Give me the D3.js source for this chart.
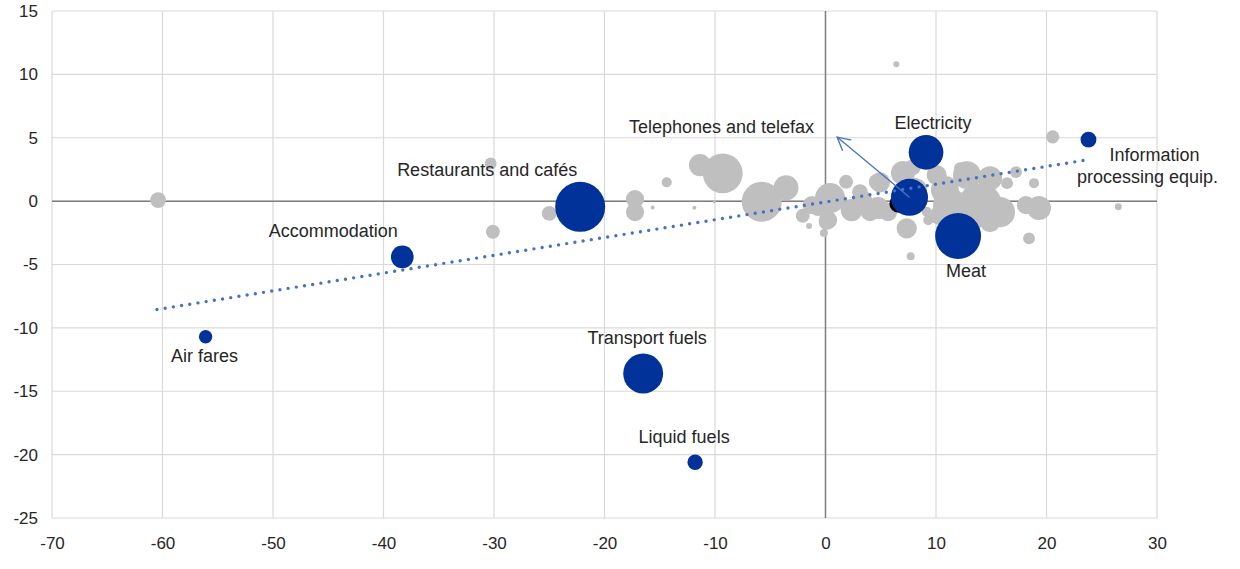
<!DOCTYPE html>
<html>
<head>
<meta charset="utf-8">
<script src="https://cdn.jsdelivr.net/npm/d3@7/dist/d3.min.js"></script>
<style>
  html, body { margin: 0; padding: 0; background: #fff; }
  svg text { font-family: "Liberation Sans", Arial, sans-serif; }
</style>
</head>
<body>
<svg id="chart" width="1240" height="569"></svg>
<script>
// ---------- DATA ----------
const xTicks = [-70, -60, -50, -40, -30, -20, -10, 0, 10, 20, 30];
const yTicks = [15, 10, 5, 0, -5, -10, -15, -20, -25];

// Highlighted items
const highlightNames = ["Air fares", "Accommodation", "Restaurants and cafés", "Transport fuels",
  "Liquid fuels", "Telephones and telefax", "Electricity", "Meat", "Information processing equip."];
const highlightX = [-56.1, -38.3, -22.2, -16.5, -11.8, 7.6, 9.1, 12.0, 23.8];
const highlightY = [-10.7, -4.4, -0.45, -13.6, -20.6, 0.3, 3.85, -2.75, 4.85];
const highlightW = [11.5, 33, 160, 102, 15, 88, 77, 135, 16];

// Other items (grey)
const otherX = [-60.4, -30.1, -30.3, -25.0, -17.24, -17.24, -15.64, -11.87, -14.37, -10.06,
  -11.36, -9.3, -5.77, -3.57, -2.06, -1.49, -0.14, 0.41, 0.1, 1.86,
  2.37, 3.57, 4.75, 4.93, 7.01, 10.06, 7.35, 7.71, 9.3, 9.16,
  6.41, 20.56, 26.5, 18.42, 12.8, 14.89, 13.98, 15.79, 10.81, 16.43,
  17.24, 18.14, 19.32, 18.87, 10.36, 4.63, 12.17, 8.1, 3.12, -0.68, 0.23,
  11.27, 14.89, 7.92, 3.3, -1.24, 4.03, 5.66];
const otherY = [0.08, -2.42, 2.97, -0.97, 0.16, -0.87, -0.5, -0.53, 1.48, -0.05,
  2.84, 2.19, -0.05, 1.05, -1.16, -1.97, -2.52, 0.24, -1.63, 1.52,
  -0.71, -0.32, -0.55, 1.48, 2.21, 2.05, -2.15, -4.34, -1.5, -0.84,
  10.79, 5.07, -0.45, -2.94, 2.05, 1.81, -0.32, -0.87, 0.87, 1.42,
  2.29, -0.32, -0.55, 1.42, -1.1, 1.52, 2.6, 0.87, 0.71, -0.55, -1.5,
  -0.32, -1.66, 2.68, 0.08, -0.32, -0.87, -0.87];
const otherW = [16, 12.5, 9, 14, 21, 21, 1, 1, 6.4, 0.6,
  31, 102, 102, 40, 12.5, 2.3, 4, 58, 16, 12.5,
  31, 26, 31, 26, 37, 26, 26, 4, 6.4, 6.4,
  2.3, 11, 3.1, 9, 50, 37, 124, 58, 50, 9,
  9, 21, 37, 6.4, 26, 16, 9, 37, 16, 16, 21,
  74, 26, 16, 26, 21, 21, 21];

// Partially hidden dark item
const darkX = [6.6];
const darkY = [-0.2];
const darkW = [21];

// Linear trend end points
const trendX = [-60.5, 24.0];
const trendY = [-8.55, 3.3];

// Arrow for "Telephones and telefax": from item towards its label
const arrowX = [7.6, 1.05];
const arrowY = [0.3, 5.05];

// ---------- DRAWING ----------
const svg = d3.select("#chart");
const W = 1240, H = 569;
const margin = { left: 52, right: W - 1157, top: 11, bottom: H - 518 };

const x = d3.scaleLinear().domain([-70, 30]).range([margin.left, W - margin.right]);
const y = d3.scaleLinear().domain([-25, 15]).range([H - margin.bottom, margin.top]);
const r = d3.scaleSqrt().domain([0, 160]).range([0, 25]);

// gridlines
const grid = svg.append("g");
grid.selectAll("line.v").data(xTicks).join("line")
  .attr("x1", d => x(d)).attr("x2", d => x(d))
  .attr("y1", y(15)).attr("y2", y(-25))
  .attr("stroke", "#d9d9d9").attr("stroke-width", 1.2);
grid.selectAll("line.h").data(yTicks).join("line")
  .attr("x1", x(-70)).attr("x2", x(30))
  .attr("y1", d => y(d)).attr("y2", d => y(d))
  .attr("stroke", "#d9d9d9").attr("stroke-width", 1.2);

// zero axes
svg.append("line").attr("x1", x(-70)).attr("x2", x(30)).attr("y1", y(0)).attr("y2", y(0))
  .attr("stroke", "#7f7f7f").attr("stroke-width", 1.5);
svg.append("line").attr("x1", x(0)).attr("x2", x(0)).attr("y1", y(15)).attr("y2", y(-25))
  .attr("stroke", "#7f7f7f").attr("stroke-width", 1.5);

// axis labels
const fmt = d => String(d);
const xAxis = d3.axisBottom(x).tickValues(xTicks).tickFormat(fmt).tickSize(0).tickPadding(19);
const gx = svg.append("g").attr("transform", `translate(0,${y(-25)})`).call(xAxis);
gx.select(".domain").remove();
gx.selectAll("text").attr("font-size", 17).attr("fill", "#262626")
  .attr("font-family", "Liberation Sans, Arial, sans-serif");

const yAxis = d3.axisLeft(y).tickValues(yTicks).tickFormat(fmt).tickSize(0).tickPadding(14);
const gy = svg.append("g").attr("transform", `translate(${x(-70)},0)`).call(yAxis);
gy.select(".domain").remove();
gy.selectAll("text").attr("font-size", 17).attr("fill", "#262626")
  .attr("font-family", "Liberation Sans, Arial, sans-serif");

// grey bubbles
const others = otherX.map((d, i) => ({ x: d, y: otherY[i], w: otherW[i] }));
svg.append("g").selectAll("circle").data(others).join("circle")
  .attr("cx", d => x(d.x)).attr("cy", d => y(d.y)).attr("r", d => r(d.w))
  .attr("fill", "#bfbfbf");

// dark bubble
const darks = darkX.map((d, i) => ({ x: d, y: darkY[i], w: darkW[i] }));
svg.append("g").selectAll("circle").data(darks).join("circle")
  .attr("cx", d => x(d.x)).attr("cy", d => y(d.y)).attr("r", d => r(d.w))
  .attr("fill", "#000000");

// highlighted bubbles
const highs = highlightNames.map((n, i) => ({ name: n, x: highlightX[i], y: highlightY[i], w: highlightW[i] }));
svg.append("g").selectAll("circle").data(highs).join("circle")
  .attr("cx", d => x(d.x)).attr("cy", d => y(d.y)).attr("r", d => r(d.w))
  .attr("fill", "#003299");

// trend line (dotted)
const trend = trendX.map((d, i) => [d, trendY[i]]);
svg.append("path").datum(trend)
  .attr("d", d3.line().x(d => x(d[0])).y(d => y(d[1])))
  .attr("fill", "none").attr("stroke", "#4472c4").attr("stroke-width", 3.4)
  .attr("stroke-linecap", "round").attr("stroke-dasharray", "0,8.3");

// arrow
svg.append("defs").append("marker")
  .attr("id", "arrowHead").attr("viewBox", "-13 -8 15 16")
  .attr("refX", 0).attr("refY", 0)
  .attr("markerWidth", 15).attr("markerHeight", 16)
  .attr("markerUnits", "userSpaceOnUse")
  .attr("orient", "auto")
  .append("path").attr("d", "M-13,-7 L0,0 L-13,7")
  .attr("fill", "none").attr("stroke", "#4472c4").attr("stroke-width", 1.3);
const arrow = arrowX.map((d, i) => [d, arrowY[i]]);
svg.append("path").datum(arrow)
  .attr("d", d3.line().x(d => x(d[0])).y(d => y(d[1])))
  .attr("fill", "none").attr("stroke", "#4472c4").attr("stroke-width", 1.3)
  .attr("marker-end", "url(#arrowHead)");

// labels (pixel offsets from item position)
const labelOffsets = {
  "Air fares": [{ dx: -1, dy: 19, t: "Air fares" }],
  "Accommodation": [{ dx: -69, dy: -26, t: "Accommodation" }],
  "Restaurants and cafés": [{ dx: -93, dy: -37, t: "Restaurants and cafés" }],
  "Transport fuels": [{ dx: 4, dy: -36, t: "Transport fuels" }],
  "Liquid fuels": [{ dx: -11, dy: -25, t: "Liquid fuels" }],
  "Telephones and telefax": [{ dx: -188, dy: -70, t: "Telephones and telefax" }],
  "Electricity": [{ dx: 7, dy: -29, t: "Electricity" }],
  "Meat": [{ dx: 8, dy: 35, t: "Meat" }],
  "Information processing equip.": [{ dx: 66, dy: 15, t: "Information" }, { dx: 59, dy: 37, t: "processing equip." }]
};
const labelData = [];
highs.forEach(h => labelOffsets[h.name].forEach(o => labelData.push({ x: x(h.x) + o.dx, y: y(h.y) + o.dy, t: o.t })));
svg.append("g").selectAll("text").data(labelData).join("text")
  .attr("x", d => d.x).attr("y", d => d.y)
  .attr("text-anchor", "middle").attr("dominant-baseline", "central")
  .attr("font-size", 18).attr("fill", "#262626")
  .text(d => d.t);
</script>
</body>
</html>
